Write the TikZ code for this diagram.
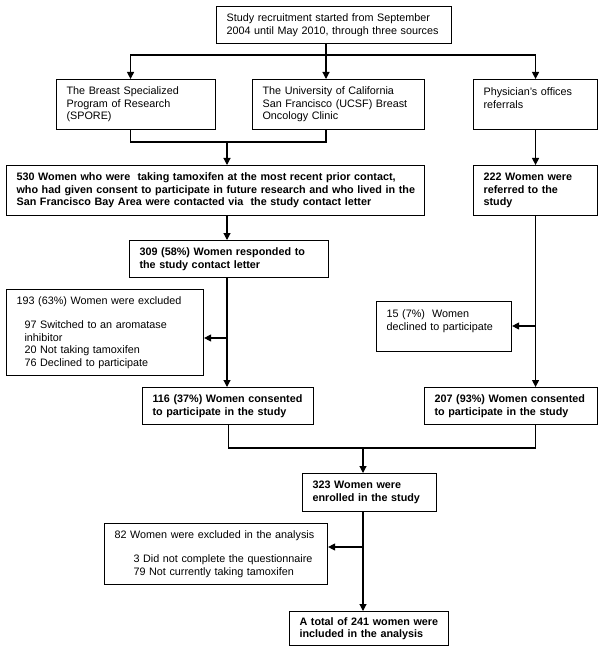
\documentclass[tikz,border=0pt]{standalone}
\usepackage{fontspec}
\setmainfont{Liberation Sans}
\usepackage{tikz}
\usetikzlibrary{arrows.meta,calc,positioning}

\begin{document}
\begin{tikzpicture}[x=1pt,y=-1pt,every path/.style={line width=1.1pt},
    font=\fontsize{10.8}{12.6}\selectfont]
  \tikzstyle{box} = [draw,anchor=north west,align=left,inner xsep=10pt,inner ysep=3pt];
  \tikzstyle{bbox} = [box,font=\fontsize{10.8}{12.6}\selectfont\bfseries];
  \tikzstyle{arr} = [-{Triangle[length=7pt,width=7pt]}];
  \useasboundingbox (0,0) rectangle (603,652);
  % sources
  \node[box,text width=215pt,minimum height=37pt] (recruit) at (216,6)
    {Study recruitment started from September\\2004 until May 2010, through three sources};
  \node[box,text width=139pt,minimum height=50pt] (spore) at (56,79)
    {The Breast Specialized\\Program of Research\\(SPORE)};
  \node[box,text width=152pt,minimum height=50pt] (ucsf) at (252,79)
    {The University of California\\San Francisco (UCSF) Breast\\Oncology Clinic};
  \node[box,text width=104pt,minimum height=50pt] (phys) at (473,79)
    {Physician's offices\\referrals\\\mbox{}};
  % contacted / referred
  \node[bbox,text width=398pt,minimum height=50pt] (contacted) at (6,165)
    {530 Women who were~ taking tamoxifen at the most recent prior contact,\\\mbox{who had given consent to participate in future research and who lived in the}\\San Francisco Bay Area were contacted via~ the study contact letter};
  \node[bbox,text width=104pt,minimum height=50pt] (referred) at (473,165)
    {222 Women were\\referred to the\\study};
  \node[bbox,text width=179pt,minimum height=37pt] (responded) at (129,240)
    {309 (58\%) Women responded to\\the study contact letter};
  % exclusions
  \node[box,text width=177pt,minimum height=86pt] (exclA) at (6,289)
    {193 (63\%) Women were excluded\\[12pt]
     \hspace*{8pt}97 Switched to an aromatase\\
     \hspace*{8pt}inhibitor\\
     \hspace*{8pt}20 Not taking tamoxifen\\
     \hspace*{8pt}76 Declined to participate};
  \node[box,text width=115pt,minimum height=50pt] (declined) at (376,301)
    {15 (7\%)~ Women\\declined to participate\\\mbox{}};
  % consented
  \node[bbox,text width=151pt,minimum height=37pt] (consentA) at (142,387)
    {116 (37\%) Women consented\\to participate in the study};
  \node[bbox,text width=153pt,minimum height=37pt] (consentB) at (424,387)
    {207 (93\%) Women consented\\to participate in the study};
  \node[bbox,text width=114pt,minimum height=38pt] (enrolled) at (302,473)
    {323 Women were\\enrolled in the study};
  \node[box,text width=203pt,minimum height=61pt] (exclB) at (104,523)
    {82 Women were excluded in the analysis\\[12pt]
     \hspace*{19pt}3 Did not complete the questionnaire\\
     \hspace*{19pt}79 Not currently taking tamoxifen};
  \node[bbox,text width=139pt,minimum height=34pt] (total) at (289,611)
    {A total of 241 women were\\included in the analysis};
  % connectors
  \coordinate (split) at (326,55);
  \coordinate (joinA) at (227,142);
  \coordinate (joinB) at (363,448);
  \coordinate (tapA) at (227,338);
  \coordinate (tapB) at (535,326);
  \coordinate (tapC) at (363,547);
  \draw (recruit.south -| split) -- (split);
  \draw[arr] (split) -- (ucsf.north -| split);
  \draw[arr] (split) -| ([xshift=-5.5pt]spore.north);
  \draw[arr] (split) -| (phys.north);
  \draw ([xshift=-5.5pt]spore.south) |- (joinA) -| (ucsf.south -| split);
  \draw[arr] (joinA) -- (contacted.north -| joinA);
  \draw[arr] (phys.south) -- (referred.north);
  \draw[arr] (contacted.south -| joinA) -- (responded.north -| joinA);
  \draw[arr] (responded.south -| joinA) -- (consentA.north -| joinA);
  \draw[arr] (tapA) -- (exclA.east |- tapA);
  \draw[arr] (referred.south) -- (consentB.north -| referred.south);
  \draw[arr] (tapB) -- (declined.east |- tapB);
  \draw (consentA.south) |- (joinB) -| (consentB.south -| referred.south);
  \draw[arr] (joinB) -- (enrolled.north -| joinB);
  \draw[arr] (enrolled.south -| joinB) -- (total.north -| joinB);
  \draw[arr] (tapC) -- (exclB.east |- tapC);
\end{tikzpicture}
\end{document}
